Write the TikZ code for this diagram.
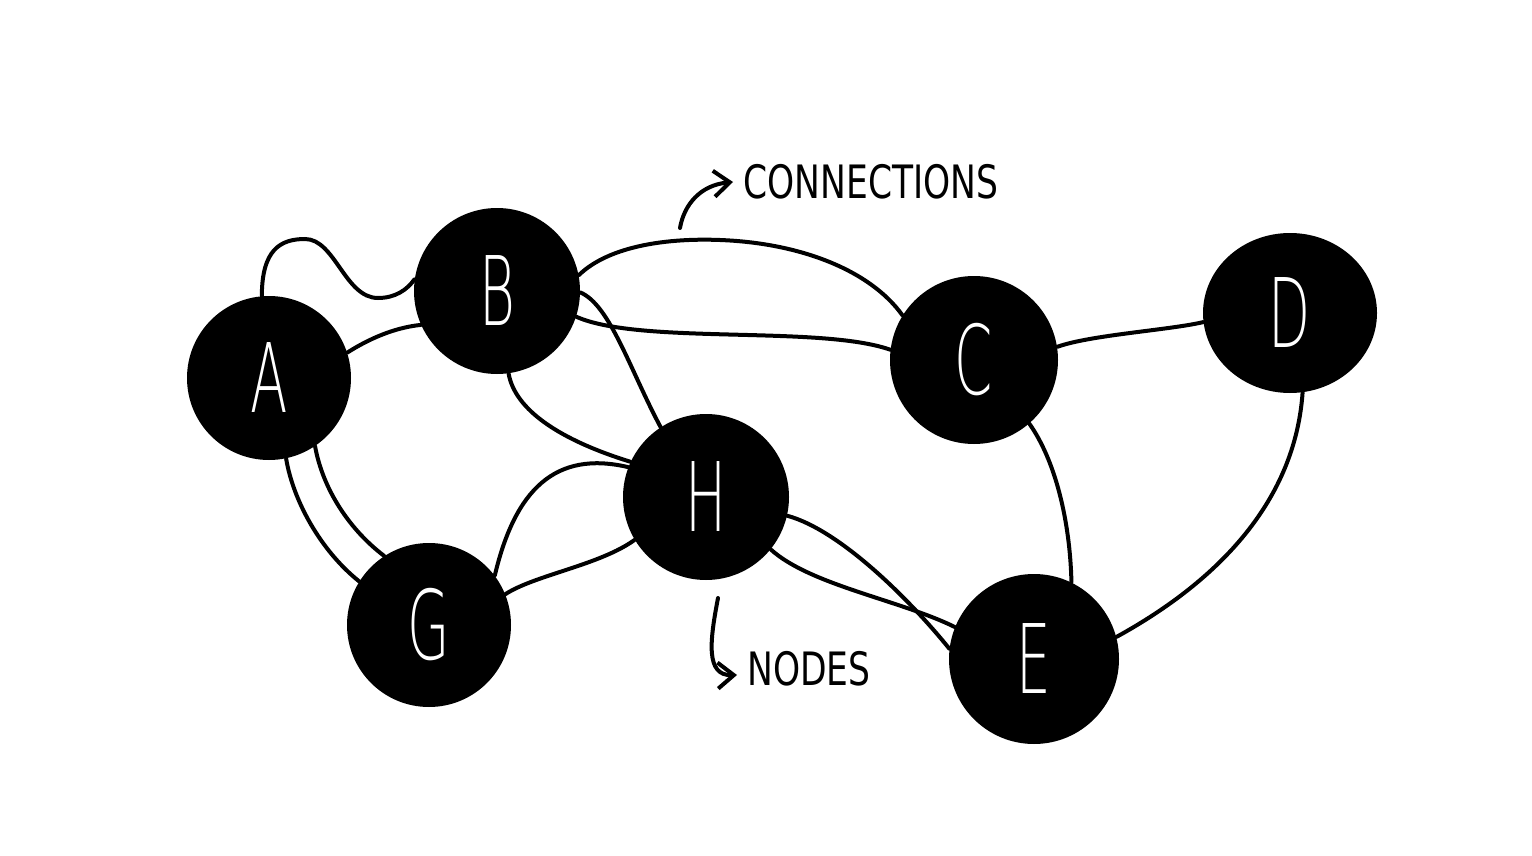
\documentclass[tikz,border=0pt]{standalone}
\usepackage{fontspec}
\usetikzlibrary{arrows.meta,shapes.geometric}
\newfontfamily\letfont{DejaVu Sans ExtraLight}[FakeStretch=0.57]
\newfontfamily\labfont{DejaVu Sans}[FakeStretch=0.75]
\begin{document}
\begin{tikzpicture}[x=0.5pt,y=-0.5pt,
  gnode/.style={circle,fill=black,inner sep=0pt,text=white,
    font=\letfont\fontsize{48}{48}\selectfont},
  edge/.style={line width=2pt,line cap=round},
  lab/.style={font=\labfont\fontsize{23}{23}\selectfont,inner sep=0pt,anchor=west},
  pointer/.style={line width=2pt,line cap=round,line join=round,
    -{Straight Barb[length=8pt,width=13pt,line width=2pt]}}]
\useasboundingbox[fill=white] (0,0) rectangle (1532,856);

% nodes
\node[gnode,minimum size=82pt] (A) at (269,378) {A};
\node[gnode,minimum size=83pt] (B) at (497,291) {B};
\node[gnode,minimum size=84pt] (C) at (974,360) {C};
\node[gnode,ellipse,minimum width=87pt,minimum height=80pt] (D) at (1290,313) {D};
\node[gnode,minimum size=83pt] (H) at (706,497) {H};
\node[gnode,minimum size=82pt] (G) at (429,625) {G};
\node[gnode,minimum size=85pt] (E) at (1034,659) {E};

% connections
\draw[edge] (A.95) .. controls (262,250) and (280,239) .. (305,239)
  .. controls (335,239) and (345,298) .. (378,298)
  .. controls (395,298) and (407,290) .. (B.172);
\draw[edge] (A.18) .. controls (375,335) and (400,327) .. (B.204);
\draw[edge] (B.11) .. controls (610,245) and (670,238) .. (720,240)
  .. controls (800,243) and (870,270) .. (C.148);
\draw[edge] (B.-18) .. controls (640,345) and (820,325) .. (C.173);
\draw[edge] (B.-1) .. controls (610,305) and (630,370) .. (H.123);
\draw[edge] (B.-82) .. controls (515,410) and (560,440) .. (H.155);
\draw[edge] (A.-78) .. controls (293,500) and (320,550) .. (G.148);
\draw[edge] (A.-56) .. controls (323,490) and (350,530) .. (G.123);
\draw[edge] (G.37) .. controls (515,490) and (555,450) .. (H.159);
\draw[edge] (G.22) .. controls (535,575) and (600,565) .. (H.211);
\draw[edge] (C.9.5) .. controls (1090,335) and (1170,330) .. (D.186);
\draw[edge] (C.-49) .. controls (1055,460) and (1070,520) .. (E.64);
\draw[edge] (D.-81.5) .. controls (1295,500) and (1220,580) .. (E.15);
\draw[edge] (H.-13) .. controls (840,530) and (910,600) .. (E.173);
\draw[edge] (H.-39) .. controls (810,585) and (900,600) .. (E.158);

% annotations
\node[lab] (conn) at (743,182) {CONNECTIONS};
\node[lab] (nodes) at (747,669) {NODES};
\coordinate (c1) at (680,228);
\coordinate (n1) at (718,598);
\draw[pointer] (c1) .. controls (684,205) and (700,185) .. ([xshift=-5pt]conn.west);
\draw[pointer] (n1) .. controls (710,640) and (705,676) .. ([xshift=-5pt,yshift=-3pt]nodes.west);
\end{tikzpicture}
\end{document}
